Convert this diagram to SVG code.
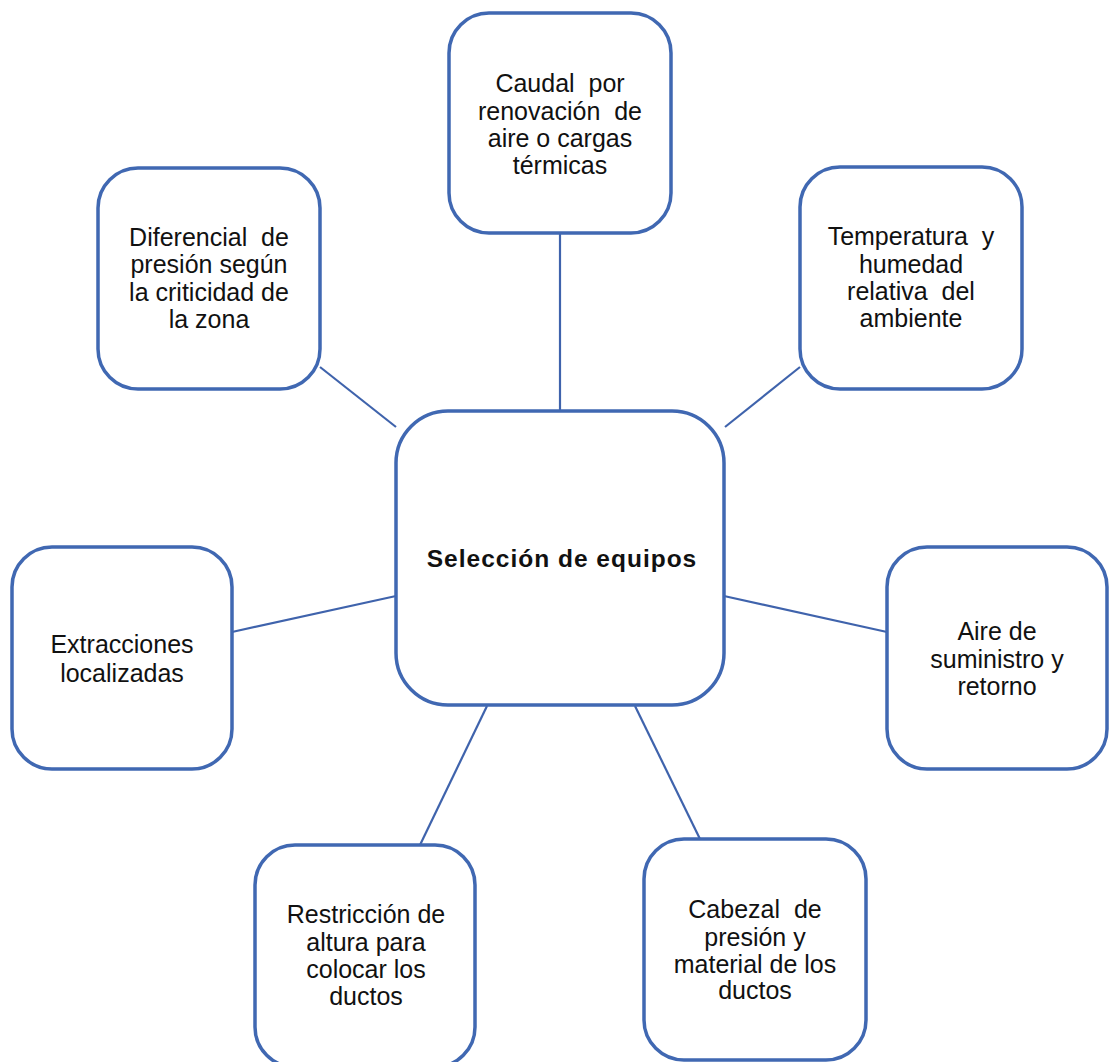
<svg xmlns="http://www.w3.org/2000/svg" width="1109" height="1062" viewBox="0 0 1109 1062">
  <style>
    .box { fill: #ffffff; stroke: #4068B2; stroke-width: 3.5; }
    .link { stroke: #3F63AC; stroke-width: 2.2; fill: none; }
    .lbl { font-family: "Liberation Sans", Arial, sans-serif; font-size: 25px; fill: #111111; text-anchor: middle; white-space: pre; }
    .main { font-family: "Liberation Sans", Arial, sans-serif; font-size: 24.5px; font-weight: bold; letter-spacing: 1px; fill: #111111; text-anchor: middle; }
  </style>
  <rect width="1109" height="1062" fill="#ffffff"/>

  <!-- connectors: centre hub to each surrounding node -->
  <g id="connectors">
    <line class="link" x1="560" y1="233" x2="560" y2="411"/>
    <line class="link" x1="320" y1="367" x2="396" y2="427"/>
    <line class="link" x1="800" y1="367" x2="725" y2="427"/>
    <line class="link" x1="232" y1="632" x2="396" y2="596"/>
    <line class="link" x1="724" y1="596" x2="887" y2="632"/>
    <line class="link" x1="487" y1="706" x2="420" y2="845"/>
    <line class="link" x1="635" y1="706" x2="700" y2="839"/>
  </g>

  <g id="node-center">
    <rect class="box" x="396" y="411" width="328" height="294" rx="52" ry="52"/>
    <text class="main" x="562" y="567">Selección de equipos</text>
  </g>

  <g id="node-caudal">
    <rect class="box" x="449" y="13" width="222" height="220" rx="40" ry="40"/>
    <text class="lbl" x="560" y="92">Caudal  por</text>
    <text class="lbl" x="560" y="120">renovación  de</text>
    <text class="lbl" x="560" y="147">aire o cargas</text>
    <text class="lbl" x="560" y="174">térmicas</text>
  </g>

  <g id="node-diferencial">
    <rect class="box" x="98" y="168" width="222" height="221" rx="40" ry="40"/>
    <text class="lbl" x="209" y="246">Diferencial  de</text>
    <text class="lbl" x="209" y="273">presión según</text>
    <text class="lbl" x="209" y="301">la criticidad de</text>
    <text class="lbl" x="209" y="328">la zona</text>
  </g>

  <g id="node-temperatura">
    <rect class="box" x="800" y="167" width="222" height="222" rx="40" ry="40"/>
    <text class="lbl" x="911" y="245">Temperatura  y</text>
    <text class="lbl" x="911" y="273">humedad</text>
    <text class="lbl" x="911" y="300">relativa  del</text>
    <text class="lbl" x="911" y="327">ambiente</text>
  </g>

  <g id="node-extracciones">
    <rect class="box" x="12" y="547" width="220" height="222" rx="40" ry="40"/>
    <text class="lbl" x="122" y="653">Extracciones</text>
    <text class="lbl" x="122" y="682">localizadas</text>
  </g>

  <g id="node-aire">
    <rect class="box" x="887" y="547" width="220" height="222" rx="40" ry="40"/>
    <text class="lbl" x="997" y="640">Aire de</text>
    <text class="lbl" x="997" y="668">suministro y</text>
    <text class="lbl" x="997" y="695">retorno</text>
  </g>

  <g id="node-restriccion">
    <rect class="box" x="255" y="845" width="220" height="222" rx="40" ry="40"/>
    <text class="lbl" x="366" y="923">Restricción de</text>
    <text class="lbl" x="366" y="951">altura para</text>
    <text class="lbl" x="366" y="978">colocar los</text>
    <text class="lbl" x="366" y="1005">ductos</text>
  </g>

  <g id="node-cabezal">
    <rect class="box" x="644" y="839" width="222" height="221" rx="40" ry="40"/>
    <text class="lbl" x="755" y="918">Cabezal  de</text>
    <text class="lbl" x="755" y="946">presión y</text>
    <text class="lbl" x="755" y="973">material de los</text>
    <text class="lbl" x="755" y="999">ductos</text>
  </g>
</svg>
